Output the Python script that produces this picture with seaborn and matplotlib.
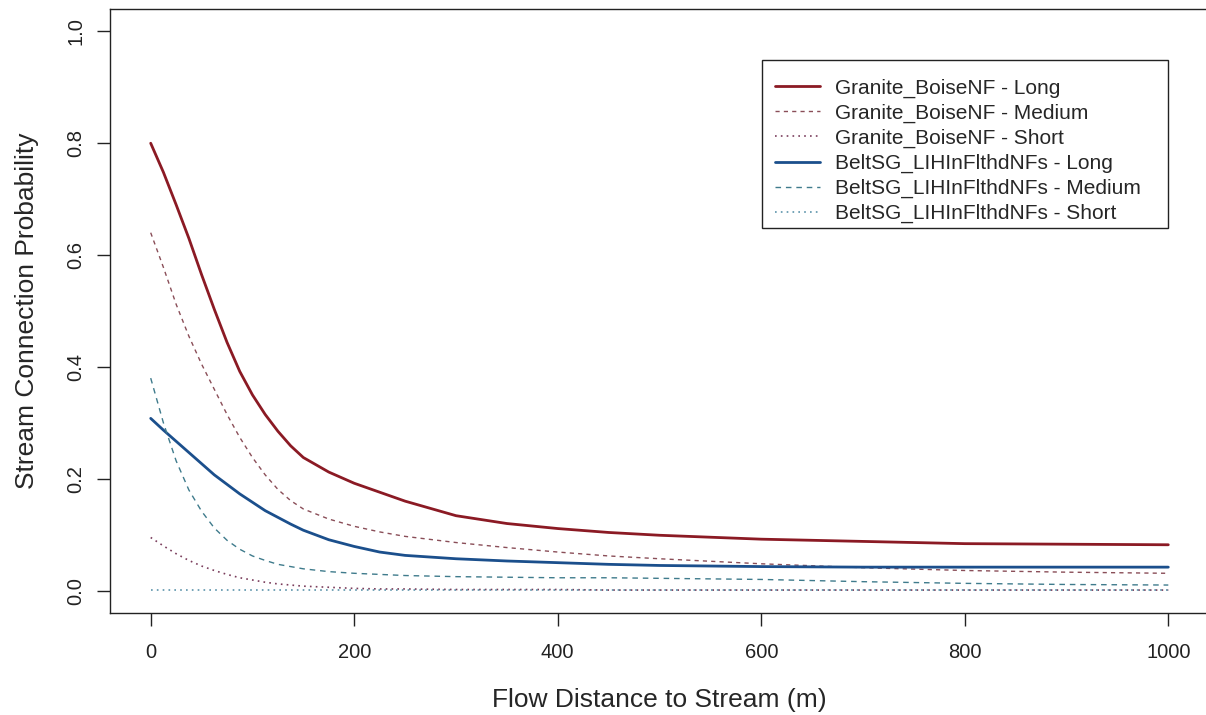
import numpy as np
import pandas as pd
import matplotlib
matplotlib.use("Agg")
import matplotlib.pyplot as plt
from matplotlib.patches import Rectangle
import seaborn as sns

distance = [0, 12.5, 25, 37.5, 50, 62.5, 75, 87.5, 100, 112.5, 125, 137.5, 150,
            175, 200, 225, 250, 300, 350, 400, 450, 500, 600, 700, 800, 900, 1000]

granite_long = [0.800, 0.748, 0.690, 0.630, 0.565, 0.503, 0.444, 0.392, 0.350, 0.315,
                0.285, 0.259, 0.238, 0.212, 0.192, 0.176, 0.160, 0.134, 0.120, 0.111,
                0.104, 0.099, 0.092, 0.088, 0.084, 0.083, 0.082]
granite_medium = [0.640, 0.578, 0.512, 0.455, 0.405, 0.360, 0.315, 0.274, 0.238, 0.207,
                  0.181, 0.161, 0.146, 0.128, 0.115, 0.105, 0.097, 0.086, 0.077, 0.069,
                  0.062, 0.057, 0.048, 0.041, 0.036, 0.033, 0.031]
granite_short = [0.095, 0.080, 0.066, 0.054, 0.044, 0.036, 0.029, 0.023, 0.019, 0.015,
                 0.012, 0.010, 0.008, 0.006, 0.004, 0.003, 0.003, 0.002, 0.002, 0.002,
                 0.001, 0.001, 0.001, 0.001, 0.001, 0.001, 0.001]
belt_long = [0.308, 0.287, 0.267, 0.247, 0.227, 0.207, 0.190, 0.173, 0.158, 0.143,
             0.131, 0.119, 0.108, 0.091, 0.079, 0.069, 0.063, 0.057, 0.053, 0.050,
             0.047, 0.045, 0.043, 0.042, 0.042, 0.042, 0.042]
belt_medium = [0.380, 0.300, 0.232, 0.180, 0.142, 0.112, 0.090, 0.074, 0.062, 0.054,
               0.047, 0.043, 0.039, 0.034, 0.031, 0.029, 0.027, 0.025, 0.024, 0.023,
               0.023, 0.022, 0.020, 0.016, 0.013, 0.011, 0.010]
belt_short = [0.001, 0.001, 0.001, 0.001, 0.001, 0.001, 0.001, 0.001, 0.001, 0.001,
              0.001, 0.001, 0.001, 0.001, 0.001, 0.001, 0.001, 0.001, 0.001, 0.001,
              0.001, 0.001, 0.001, 0.001, 0.001, 0.001, 0.001]

labels = ["Granite_BoiseNF - Long", "Granite_BoiseNF - Medium", "Granite_BoiseNF - Short",
          "BeltSG_LIHInFlthdNFs - Long", "BeltSG_LIHInFlthdNFs - Medium",
          "BeltSG_LIHInFlthdNFs - Short"]
series = [granite_long, granite_medium, granite_short, belt_long, belt_medium, belt_short]

colors = ["#8b1a24", "#8a4e58", "#7a3d5c", "#1b4f8c", "#3f7b8c", "#5b93aa"]
styles = ["-", (0, (3, 3)), (0, (1, 2.5)), "-", (0, (4, 3.5)), (0, (1, 2.5))]
widths = [2.0, 1.0, 1.2, 2.0, 1.0, 1.2]

sns.set_style("white")
plt.rcParams['font.family'] = ['Liberation Sans', 'DejaVu Sans']

fig = plt.figure(figsize=(12.06, 7.15), dpi=100)
ax = fig.add_axes([110 / 1206, 102 / 715, 1099 / 1206, 604 / 715])

for lab, vals, c, ls, lw in zip(labels, series, colors, styles, widths):
    df = pd.DataFrame({"dist": distance, "prob": vals})
    sns.lineplot(data=df, x="dist", y="prob", ax=ax, color=c, linestyle=ls,
                 linewidth=lw, label=lab)

ax.set_xlim(-40, 1040)
ax.set_ylim(-0.04, 1.04)
ax.set_xticks([0, 200, 400, 600, 800, 1000])
ax.set_yticks([0.0, 0.2, 0.4, 0.6, 0.8, 1.0])
ax.set_yticklabels(["0.0", "0.2", "0.4", "0.6", "0.8", "1.0"])
ax.tick_params(axis='both', direction='out', length=9.5, width=1, colors='#222222',
               labelsize=14.5, left=True, bottom=True)
ax.tick_params(axis='x', pad=12)
ax.tick_params(axis='y', pad=8, labelrotation=90)
for t in ax.get_yticklabels():
    t.set_va('center')

for s in ax.spines.values():
    s.set_visible(True)
    s.set_color('#222222')
    s.set_linewidth(1.0)

ax.set_xlabel("Flow Distance to Stream (m)", fontsize=19, labelpad=19)
ax.set_ylabel("Stream Connection Probability", fontsize=19, labelpad=20)

# legend entries without frame, R-style box drawn separately
leg = ax.legend(loc='upper left', bbox_to_anchor=(760 / 1206, 1 - 64 / 715),
                bbox_transform=fig.transFigure, fontsize=15, frameon=False,
                handlelength=2.2, handletextpad=0.7, labelspacing=0.28,
                borderpad=0.7, borderaxespad=0)
box = Rectangle((762 / 1206, 1 - 228 / 715), (1168 - 762) / 1206, (228 - 60) / 715,
                transform=fig.transFigure, fill=False, edgecolor='#222222',
                linewidth=1.0, zorder=5)
fig.patches.append(box)

fig.savefig("out.png", dpi=100)
